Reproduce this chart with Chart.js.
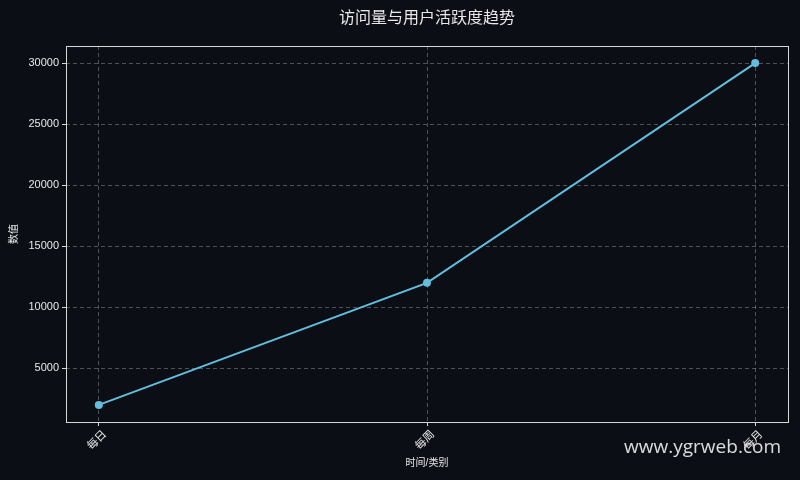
<!DOCTYPE html>
<html>
<head>
<meta charset="utf-8">
<script src="https://cdn.jsdelivr.net/npm/chart.js@4/dist/chart.umd.min.js"></script>
<style>
html,body{margin:0;padding:0;background:#0b0e14;}
#c{display:block;}
</style>
</head>
<body>
<canvas id="c" width="800" height="480"></canvas>
<script>
const categories = ['每日', '每周', '每月'];
const values = [2000, 12000, 30000];
const yTicks = [5000, 10000, 15000, 20000, 25000, 30000];
const titleText = '访问量与用户活跃度趋势';
const xTitle = '时间/类别';
const yTitle = '数值';
const watermark = 'www.ygrweb.com';

const FONT = "'Liberation Sans', 'Noto Sans CJK SC', sans-serif";
const TXT = '#e8e8e8';
const GRID = 'rgba(255,255,255,0.28)';

const framePlugin = {
  id: 'frame',
  beforeDraw(chart) {
    const {ctx} = chart;
    ctx.save();
    ctx.fillStyle = '#0b0e14';
    ctx.fillRect(0, 0, chart.width, chart.height);
    ctx.font = "19px 'Open Sans', sans-serif";
    ctx.fillStyle = 'rgba(255,255,255,0.85)';
    ctx.textAlign = 'right';
    ctx.textBaseline = 'middle';
    ctx.fillText(watermark, 781, 448);
    ctx.restore();
  },
  afterDraw(chart) {
    const {ctx, chartArea: a} = chart;
    ctx.save();
    ctx.strokeStyle = '#d8d8d8';
    ctx.lineWidth = 1;
    ctx.setLineDash([]);
    ctx.strokeRect(Math.round(a.left) + 0.5, Math.round(a.top) + 0.5, Math.round(a.right - a.left), Math.round(a.bottom - a.top));
    ctx.font = "16px " + FONT;
    ctx.fillStyle = TXT;
    ctx.textAlign = 'center';
    ctx.textBaseline = 'middle';
    ctx.fillText(titleText, (a.left + a.right) / 2, 19);
    ctx.restore();
  }
};

new Chart(document.getElementById('c'), {
  type: 'line',
  data: {
    datasets: [{
      data: categories.map((c, i) => ({x: i, y: values[i]})),
      borderColor: '#62bedc',
      backgroundColor: '#62bedc',
      borderWidth: 2,
      pointRadius: 4,
      pointHoverRadius: 4,
      pointBorderWidth: 0,
      tension: 0,
      fill: false
    }]
  },
  options: {
    responsive: false,
    animation: false,
    devicePixelRatio: 1,
    layout: {padding: {left: 0, right: 12, top: 46, bottom: 0}},
    plugins: {
      legend: {display: false},
      tooltip: {enabled: false},
      title: {display: false}
    },
    scales: {
      x: {
        type: 'linear',
        min: -0.1,
        max: 2.1,
        afterBuildTicks(scale) { scale.ticks = categories.map((c, i) => ({value: i})); },
        afterFit(scale) { scale.height = 58; },
        ticks: {
          color: TXT,
          font: {family: FONT, size: 11},
          minRotation: 45,
          maxRotation: 45,
          padding: 2,
          labelOffset: 6,
          callback: (v) => categories[v]
        },
        grid: {color: GRID, drawTicks: true, tickLength: 4, tickColor: '#d8d8d8', tickBorderDash: [], lineWidth: 1},
        border: {display: false, dash: [4, 3]},
        title: {display: true, text: xTitle, color: TXT, font: {family: FONT, size: 10}, padding: {top: 0, bottom: 11}}
      },
      y: {
        type: 'linear',
        min: 600,
        max: 31400,
        afterBuildTicks(scale) { scale.ticks = yTicks.map(v => ({value: v})); },
        afterFit(scale) { scale.width = 66; },
        ticks: {
          color: TXT,
          font: {family: FONT, size: 11},
          padding: 3,
          callback: (v) => String(v)
        },
        grid: {color: GRID, drawTicks: true, tickLength: 4, tickColor: '#d8d8d8', tickBorderDash: [], lineWidth: 1},
        border: {display: false, dash: [4, 3]},
        title: {display: true, text: yTitle, color: TXT, font: {family: FONT, size: 10}, padding: {top: 8, bottom: 0}}
      }
    }
  },
  plugins: [framePlugin]
});
</script>
</body>
</html>
